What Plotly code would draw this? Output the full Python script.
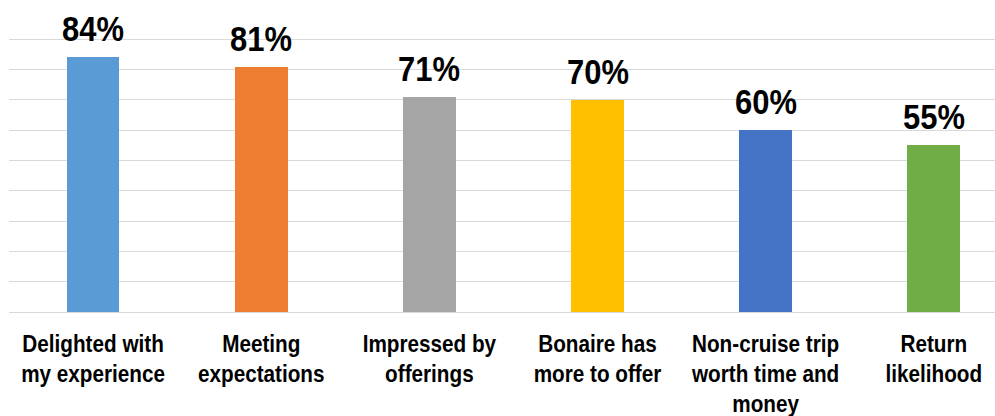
import plotly.graph_objects as go

categories = ["Delighted with<br>my experience", "Meeting<br>expectations", "Impressed by<br>offerings",
              "Bonaire has<br>more to offer", "Non-cruise trip<br>worth time and<br>money", "Return<br>likelihood"]
values = [84, 81, 71, 70, 60, 55]
value_labels = ["84%", "81%", "71%", "70%", "60%", "55%"]
colors = ["#5B9BD5", "#ED7D31", "#A5A5A5", "#FFC000", "#4472C4", "#70AD47"]

FONT = "Liberation Sans Narrow, Arial Narrow, Liberation Sans, Arial, sans-serif"

fig = go.Figure()
fig.add_trace(go.Bar(
    x=list(range(len(categories))), y=values,
    marker=dict(color=colors, line=dict(width=0)),
    width=0.313,
    hoverinfo="skip",
))

for i, (v, t) in enumerate(zip(values, value_labels)):
    fig.add_annotation(x=i, y=v, text="<b>%s</b>" % t, showarrow=False,
                       yanchor="bottom", yshift=6,
                       font=dict(family=FONT, size=36, color="#000000"))

fig.update_layout(
    width=995, height=416,
    margin=dict(l=9, r=0, t=9, b=104, autoexpand=False),
    paper_bgcolor="white", plot_bgcolor="white",
    showlegend=False,
    bargap=0,
    xaxis=dict(
        range=[-0.5, 5.364],
        tickmode="array",
        tickvals=list(range(len(categories))),
        ticktext=["<b>%s</b>" % c for c in categories],
        tickfont=dict(family=FONT, size=23, color="#000000"),
        ticklabelstandoff=16,
        automargin=False,
        showgrid=False, zeroline=False, showline=False, ticks="",
        fixedrange=True,
    ),
    yaxis=dict(
        range=[0, 100], dtick=10,
        showticklabels=False,
        automargin=False,
        showgrid=True, gridcolor="#d9d9d9", gridwidth=1,
        zeroline=True, zerolinecolor="#d9d9d9", zerolinewidth=1,
        showline=False, ticks="",
        fixedrange=True,
    ),
)

# Remove page margin and condense the text horizontally to mimic the narrow typeface
post_script = """
document.body.style.margin = '0';
document.body.style.overflow = 'hidden';
function squeeze(sel, s){
  document.querySelectorAll(sel).forEach(function(t){
    var b = t.getBBox();
    var cx = b.x + b.width/2;
    var ex = t.getAttribute('transform') || '';
    t.setAttribute('transform', ex + ' translate(' + cx + ',0) scale(' + s + ',1) translate(' + (-cx) + ',0)');
  });
}
squeeze('.xtick text', 0.9);
squeeze('.annotation-text', 0.86);
"""

fig.write_html("out.html", post_script=post_script,
               config={"displayModeBar": False, "staticPlot": True})
